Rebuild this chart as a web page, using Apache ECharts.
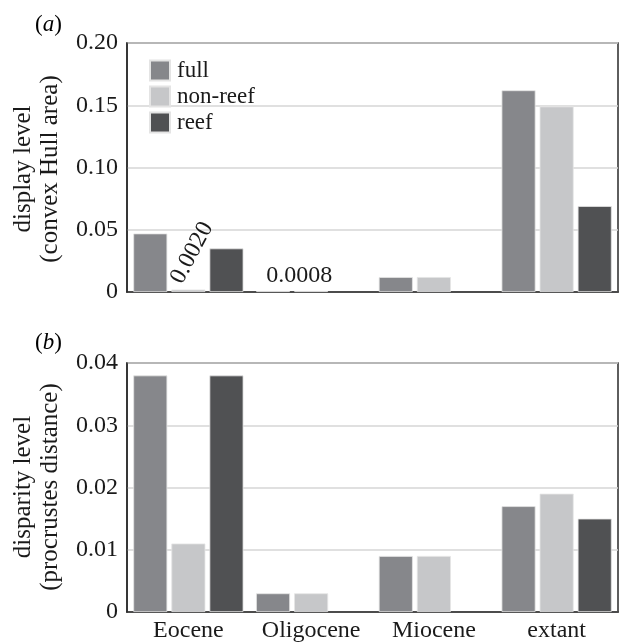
<!DOCTYPE html>
<html><head><meta charset="utf-8">
<script src="https://cdn.jsdelivr.net/npm/echarts@6/dist/echarts.min.js"></script>
<style>html,body{margin:0;padding:0;background:#fff}#c{width:619px;height:644px}</style>
</head><body><div id="c"></div>
<script>
const categories = ['Eocene', 'Oligocene', 'Miocene', 'extant'];
const seriesNames = ['full', 'non-reef', 'reef'];
// panel (a): display level (convex Hull area)
const displayFull = [0.047, 0.0008, 0.012, 0.162];
const displayNonReef = [0.002, 0.0008, 0.012, 0.149];
const displayReef = [0.035, null, null, 0.069];
// panel (b): disparity level (procrustes distance)
const disparityFull = [0.038, 0.003, 0.009, 0.017];
const disparityNonReef = [0.011, 0.003, 0.009, 0.019];
const disparityReef = [0.038, null, null, 0.015];
const displayTicks = [0, 0.05, 0.10, 0.15, 0.20];
const disparityTicks = [0, 0.01, 0.02, 0.03, 0.04];
const colors = ['#86878b', '#c6c7c9', '#505153'];

const FONT = 'Liberation Serif';
const chart = echarts.init(document.getElementById('c'), null, {renderer: 'canvas'});

function yAxis(gi, ticks) {
  return {
    type: 'value', gridIndex: gi, min: ticks[0], max: ticks[ticks.length - 1],
    interval: ticks[1] - ticks[0],
    axisLine: {show: true, lineStyle: {color: '#2a2a2a', width: 1.5}},
    axisTick: {show: false},
    splitLine: {show: true, lineStyle: {color: '#d6d6d6', width: 1.5}},
    axisLabel: {fontFamily: FONT, fontSize: 24, color: '#1a1a1a', margin: 9,
      formatter: v => v === 0 ? '0' : v.toFixed(2)}
  };
}
function xAxis(gi, showLabels) {
  return {
    type: 'category', gridIndex: gi, data: categories,
    axisLine: {show: true, lineStyle: {color: '#2a2a2a', width: 1.5}},
    axisTick: {show: false},
    axisLabel: {show: showLabels, interval: 0, hideOverlap: false, fontFamily: FONT, fontSize: 24, color: '#1a1a1a', margin: 7}
  };
}
function bar(name, data, gi, ci) {
  return {
    name, type: 'bar', xAxisIndex: gi, yAxisIndex: gi, data,
    barWidth: 34, barGap: '12%',
    itemStyle: {color: colors[ci], borderColor: '#e4e4e4', borderWidth: 0.8},
    emphasis: {disabled: true}
  };
}

const sA = [
  bar('full', displayFull, 0, 0),
  bar('non-reef', displayNonReef.map((v, i) => {
    if (i === 0) return {value: v, label: {show: true, position: 'top', distance: 0, rotate: 62,
      align: 'left', verticalAlign: 'middle', offset: [1, -14],
      formatter: () => v.toFixed(4), fontFamily: FONT, fontSize: 24, color: '#1a1a1a'}};
    if (i === 1) return {value: v, label: {show: true, position: 'top', distance: 0,
      offset: [-12, -3], formatter: () => v.toFixed(4), fontFamily: FONT, fontSize: 24, color: '#1a1a1a'}};
    return v;
  }), 0, 1),
  bar('reef', displayReef, 0, 2)
];
const sB = [
  bar('full', disparityFull, 1, 0),
  bar('non-reef', disparityNonReef, 1, 1),
  bar('reef', disparityReef, 1, 2)
];

chart.setOption({
  animation: false,
  color: colors,
  grid: [
    {left: 127, top: 43, width: 491, height: 249, show: true, borderColor: '#2a2a2a', borderWidth: 1.5, backgroundColor: 'transparent'},
    {left: 127, top: 363, width: 491, height: 249, show: true, borderColor: '#2a2a2a', borderWidth: 1.5, backgroundColor: 'transparent'}
  ],
  xAxis: [xAxis(0, false), xAxis(1, true)],
  yAxis: [yAxis(0, displayTicks), yAxis(1, disparityTicks)],
  legend: {
    data: seriesNames, orient: 'vertical', left: 144, top: 54,
    icon: 'rect', itemWidth: 20, itemHeight: 20, itemGap: 3,
    selectedMode: false,
    textStyle: {fontFamily: FONT, fontSize: 23, color: '#1a1a1a', lineHeight: 22, padding: [0, 0, 0, 2]}
  },
  series: sA.concat(sB),
  graphic: [
    {type: 'text', x: 37, y: 169, rotation: Math.PI / 2,
      style: {text: 'display level\n(convex Hull area)', font: '25px "Liberation Serif"', fill: '#1a1a1a',
        textAlign: 'center', textVerticalAlign: 'middle', lineHeight: 27}},
    {type: 'text', x: 37, y: 487, rotation: Math.PI / 2,
      style: {text: 'disparity level\n(procrustes distance)', font: '25px "Liberation Serif"', fill: '#1a1a1a',
        textAlign: 'center', textVerticalAlign: 'middle', lineHeight: 27}},
    {type: 'text', x: 35, y: 25,
      style: {text: '{n|(}{i|a}{n|)}', textVerticalAlign: 'middle',
        rich: {n: {fontFamily: FONT, fontSize: 23, color: '#1a1a1a'}, i: {fontFamily: FONT, fontSize: 23, fontStyle: 'italic', color: '#1a1a1a'}}}},
    {type: 'text', x: 35, y: 343,
      style: {text: '{n|(}{i|b}{n|)}', textVerticalAlign: 'middle',
        rich: {n: {fontFamily: FONT, fontSize: 23, color: '#1a1a1a'}, i: {fontFamily: FONT, fontSize: 23, fontStyle: 'italic', color: '#1a1a1a'}}}}
  ]
});
</script></body></html>
